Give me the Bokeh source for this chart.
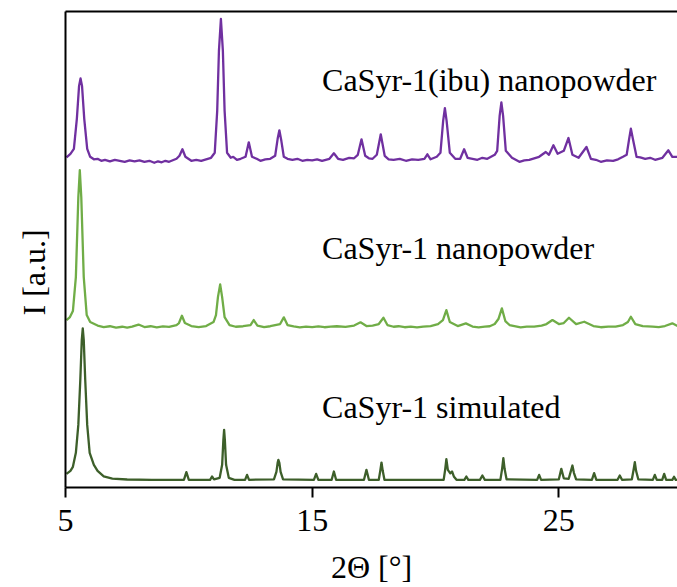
from bokeh.plotting import figure
from bokeh.models import Range1d, LinearAxis, FixedTicker, Title
from bokeh.core.properties import value
from bokeh.embed import file_html
from bokeh.resources import INLINE

# ---- data (2Theta [deg], intensity above own baseline [a.u.]) ----
sim_points = [
    (5.04, 6), (5.20, 9), (5.30, 13), (5.42, 27), (5.52, 55), (5.60, 100), (5.66, 140), (5.70, 151.7),
    (5.74, 140), (5.80, 100), (5.88, 55), (5.98, 27), (6.15, 15), (6.30, 9), (6.55, 3.5), (6.90, 1.2),
    (7.50, 0.3), (8.50, 0), (9.80, 0), (9.90, 7.7), (10.00, 0), (10.86, 0), (10.94, 3.3), (11.02, 0.5),
    (11.25, 2), (11.35, 15), (11.40, 40), (11.43, 50), (11.46, 40), (11.51, 15), (11.62, 2), (11.85, 0),
    (12.28, 0), (12.36, 5), (12.44, 0), (13.45, 0.5), (13.55, 8), (13.60, 17), (13.63, 20), (13.67, 17),
    (13.72, 8), (13.82, 0.5), (15.07, 0), (15.16, 6), (15.25, 0), (15.79, 0), (15.88, 8.3), (15.97, 0),
    (17.10, 0), (17.20, 10), (17.30, 0), (17.70, 0), (17.76, 9), (17.81, 17.3), (17.86, 9), (17.93, 0),
    (20.33, 0), (20.39, 10), (20.44, 20.7), (20.50, 10), (20.60, 6.5), (20.67, 8.3), (20.75, 3), (20.85, 0),
    (21.17, 0), (21.25, 3.3), (21.33, 0), (21.80, 0), (21.90, 4.3), (22.00, 0),
    (22.63, 0), (22.70, 11), (22.75, 21.7), (22.80, 11), (22.88, 0.5), (24.12, 0), (24.20, 5), (24.28, 0),
    (25.00, 0.5), (25.10, 11), (25.20, 1.5), (25.40, 1), (25.49, 9), (25.55, 14.3), (25.61, 7), (25.70, 0.5),
    (26.34, 0), (26.43, 6.7), (26.52, 0), (27.38, 0), (27.47, 4.3), (27.56, 0),
    (27.96, 0.5), (28.03, 10), (28.08, 17.7), (28.13, 9), (28.22, 0.5), (28.81, 0), (28.89, 5), (28.97, 0),
    (29.19, 0), (29.27, 6), (29.35, 0), (29.60, 0), (29.67, 3), (29.74, 0), (29.81, 0),
]

nano_points = [
    (5.04, 7), (5.18, 10), (5.30, 16), (5.42, 50), (5.52, 130), (5.58, 157), (5.64, 130), (5.74, 50),
    (5.86, 12), (6.00, 5), (6.30, 1.5), (6.55, 0), (6.80, 0.8), (7.05, -0.5), (7.30, 0.3), (7.50, -0.5),
    (7.70, 0.5), (7.96, 2.5), (8.20, 0), (8.45, 0.8), (8.70, -0.3), (8.95, 0.6), (9.20, 0.2), (9.50, 2),
    (9.60, 4), (9.72, 11.3), (9.84, 4), (10.10, 1), (10.40, 0), (10.70, 1), (11.00, 5), (11.10, 12),
    (11.18, 30), (11.27, 42.7), (11.35, 30), (11.45, 10), (11.65, 2), (11.90, 0.3), (12.20, 0.8),
    (12.50, 2), (12.63, 7), (12.78, 1.5), (13.05, 0), (13.30, 0.8), (13.70, 3), (13.85, 9.7), (14.00, 2),
    (14.25, 0.6), (14.50, -0.3), (14.75, 0.5), (15.00, 0), (15.25, 0.7), (15.50, -0.2), (15.75, 0.4),
    (16.00, 0.8), (16.35, 0.2), (16.70, 1.5), (16.96, 4.7), (17.20, 1), (17.45, 1.5), (17.70, 3),
    (17.89, 9.3), (18.05, 2), (18.30, 0.3), (18.50, 0.8), (18.75, -0.2), (19.00, 0.4), (19.25, -0.3),
    (19.50, 0.5), (19.80, 1), (20.10, 3), (20.30, 7), (20.44, 17), (20.58, 5), (20.90, 1), (21.23, 3.7),
    (21.50, 0.5), (21.75, -0.3), (22.00, 0.4), (22.20, 0.8), (22.40, 3), (22.55, 8), (22.69, 18.7),
    (22.83, 6), (23.00, 2), (23.20, 1), (23.45, -0.3), (23.70, 0.4), (24.00, 0.5), (24.30, 1.5),
    (24.50, 3), (24.74, 7), (25.00, 3), (25.20, 4), (25.41, 9.3), (25.70, 3), (26.03, 5.3), (26.40, 1),
    (26.70, -0.2), (27.00, 0.5), (27.30, 0.4), (27.60, 2), (27.80, 5), (27.92, 10.3), (28.10, 3),
    (28.40, 1), (28.80, 0.5), (29.05, 0), (29.30, 1), (29.60, 3.7), (29.81, 1),
]

ibu_points = [
    (5.04, 3.5), (5.20, 7), (5.34, 12), (5.46, 42), (5.55, 75), (5.61, 82.5), (5.67, 75), (5.76, 42),
    (5.88, 12), (6.00, 4), (6.15, 1.5), (6.30, 2), (6.45, 0), (6.60, 1), (6.80, -0.5), (7.00, 1),
    (7.20, 0), (7.40, -1), (7.60, 0.5), (7.80, -0.5), (8.00, 0.5), (8.20, -1), (8.40, 0), (8.60, -2),
    (8.75, -0.5), (8.90, -1.5), (9.05, 0), (9.20, -1), (9.35, 0.5), (9.50, 2), (9.62, 5), (9.74, 11.5),
    (9.86, 4), (10.10, 0), (10.30, 1), (10.50, 0), (10.70, 1.5), (10.90, 3), (11.05, 8), (11.15, 50),
    (11.22, 110), (11.30, 142), (11.38, 110), (11.45, 50), (11.55, 8), (11.70, 3), (11.80, 4),
    (11.95, 1), (12.10, 2), (12.30, 4), (12.43, 18.5), (12.56, 4), (12.75, 2), (12.90, 0), (13.10, 1.5),
    (13.30, 2), (13.50, 5), (13.60, 22), (13.67, 30.5), (13.75, 20), (13.85, 4), (14.00, 2), (14.20, 1),
    (14.40, 2), (14.60, 0), (14.80, 1), (15.00, 0.5), (15.20, 1.5), (15.40, 0), (15.70, 2), (15.88, 7.5),
    (16.05, 2), (16.25, 1), (16.50, 3), (16.70, 2.5), (16.85, 6), (17.00, 21.5), (17.15, 5), (17.30, 2.5),
    (17.45, 2), (17.62, 6), (17.78, 26.5), (17.94, 5), (18.10, 1.5), (18.30, 1), (18.55, 2), (18.80, 0),
    (19.05, 1.5), (19.30, 1), (19.55, 2), (19.67, 6.5), (19.80, 1.5), (19.95, 3), (20.05, 4), (20.20, 8),
    (20.31, 40), (20.38, 52.8), (20.45, 40), (20.58, 8), (20.80, 2), (21.00, 2), (21.16, 11.5),
    (21.30, 3), (21.50, 2), (21.70, 1), (21.90, 3), (22.10, 2), (22.40, 6), (22.50, 10), (22.60, 45),
    (22.67, 58.5), (22.74, 45), (22.85, 10), (23.10, 3), (23.25, 1), (23.40, -1), (23.60, 0.5),
    (23.80, 1), (24.00, 2.5), (24.20, 4), (24.47, 8.8), (24.60, 6), (24.78, 15.5), (24.95, 7),
    (25.20, 10), (25.39, 22.8), (25.55, 6), (25.80, 3), (26.12, 13.8), (26.30, 2), (26.50, 1),
    (26.70, -1), (26.95, 0.5), (27.20, 0), (27.40, 1.5), (27.60, 4), (27.75, 6), (27.85, 22), (27.92, 32.2),
    (28.00, 22), (28.15, 4), (28.30, 3.5), (28.50, 2), (28.70, 3), (28.90, 1), (29.20, 3), (29.44, 10.5),
    (29.60, 4), (29.81, 4),
]

series_names = ["CaSyr-1 simulated", "CaSyr-1 nanopowder", "CaSyr-1(ibu) nanopowder"]
series_offsets = [7.7, 160.7, 327.2]
series_colors = ["#3D5F2A", "#70AD47", "#7030A0"]
label_y = [80.4, 239.7, 407.7]
label_x = 15.40
x_ticks = [5, 15, 25]

FONT = "'Liberation Serif', 'Times New Roman', serif"
FS = "32px"

p = figure(width=677, height=587, output_backend="svg", toolbar_location=None,
           x_range=Range1d(5, 29.81), y_range=Range1d(0, 476.7),
           min_border_left=65, min_border_right=0, min_border_top=11, min_border_bottom=99)
p.outline_line_color = None
p.xgrid.visible = False
p.ygrid.visible = False
p.background_fill_color = "white"
p.border_fill_color = "white"

for pts, off, col in zip([sim_points, nano_points, ibu_points], series_offsets, series_colors):
    xs = [a for a, b in pts]
    ys = [b + off for a, b in pts]
    p.line(xs, ys, line_color=col, line_width=2.3, line_join="round")

p.text(x=[label_x] * 3, y=label_y, text=series_names, text_font=value(FONT),
       text_font_size=value(FS), text_color="black", text_align="left",
       text_baseline="alphabetic")

xa = p.xaxis[0]
xa.ticker = FixedTicker(ticks=x_ticks)
xa.minor_tick_line_color = None
xa.major_tick_out = 10
xa.major_tick_in = 0
xa.major_tick_line_width = 2
xa.major_tick_line_color = "black"
xa.axis_line_width = 2
xa.axis_line_color = "black"
xa.major_label_text_font = FONT
xa.major_label_text_font_size = FS
xa.major_label_text_color = "black"
xa.major_label_standoff = 12
xa.axis_label = "2Θ [°]"
xa.axis_label_text_font = FONT
xa.axis_label_text_font_size = FS
xa.axis_label_text_font_style = "normal"
xa.axis_label_text_color = "black"
xa.axis_label_standoff = 15

ya = p.yaxis[0]
ya.ticker = FixedTicker(ticks=[])
ya.minor_tick_line_color = None
ya.major_tick_line_color = None
ya.major_label_text_font_size = "0px"
ya.axis_line_width = 2
ya.axis_line_color = "black"

top = LinearAxis(ticker=FixedTicker(ticks=[]), axis_line_width=2, axis_line_color="black",
                 major_tick_line_color=None, minor_tick_line_color=None,
                 major_label_text_font_size="0px")
p.add_layout(top, "above")

ytitle = Title(text="I [a.u.]", align="left", offset=172, text_font=FONT,
               text_font_size=FS, text_font_style="normal", text_color="black",
               standoff=27)
p.add_layout(ytitle, "left")

open("out.html", "w").write(file_html(p, INLINE))
